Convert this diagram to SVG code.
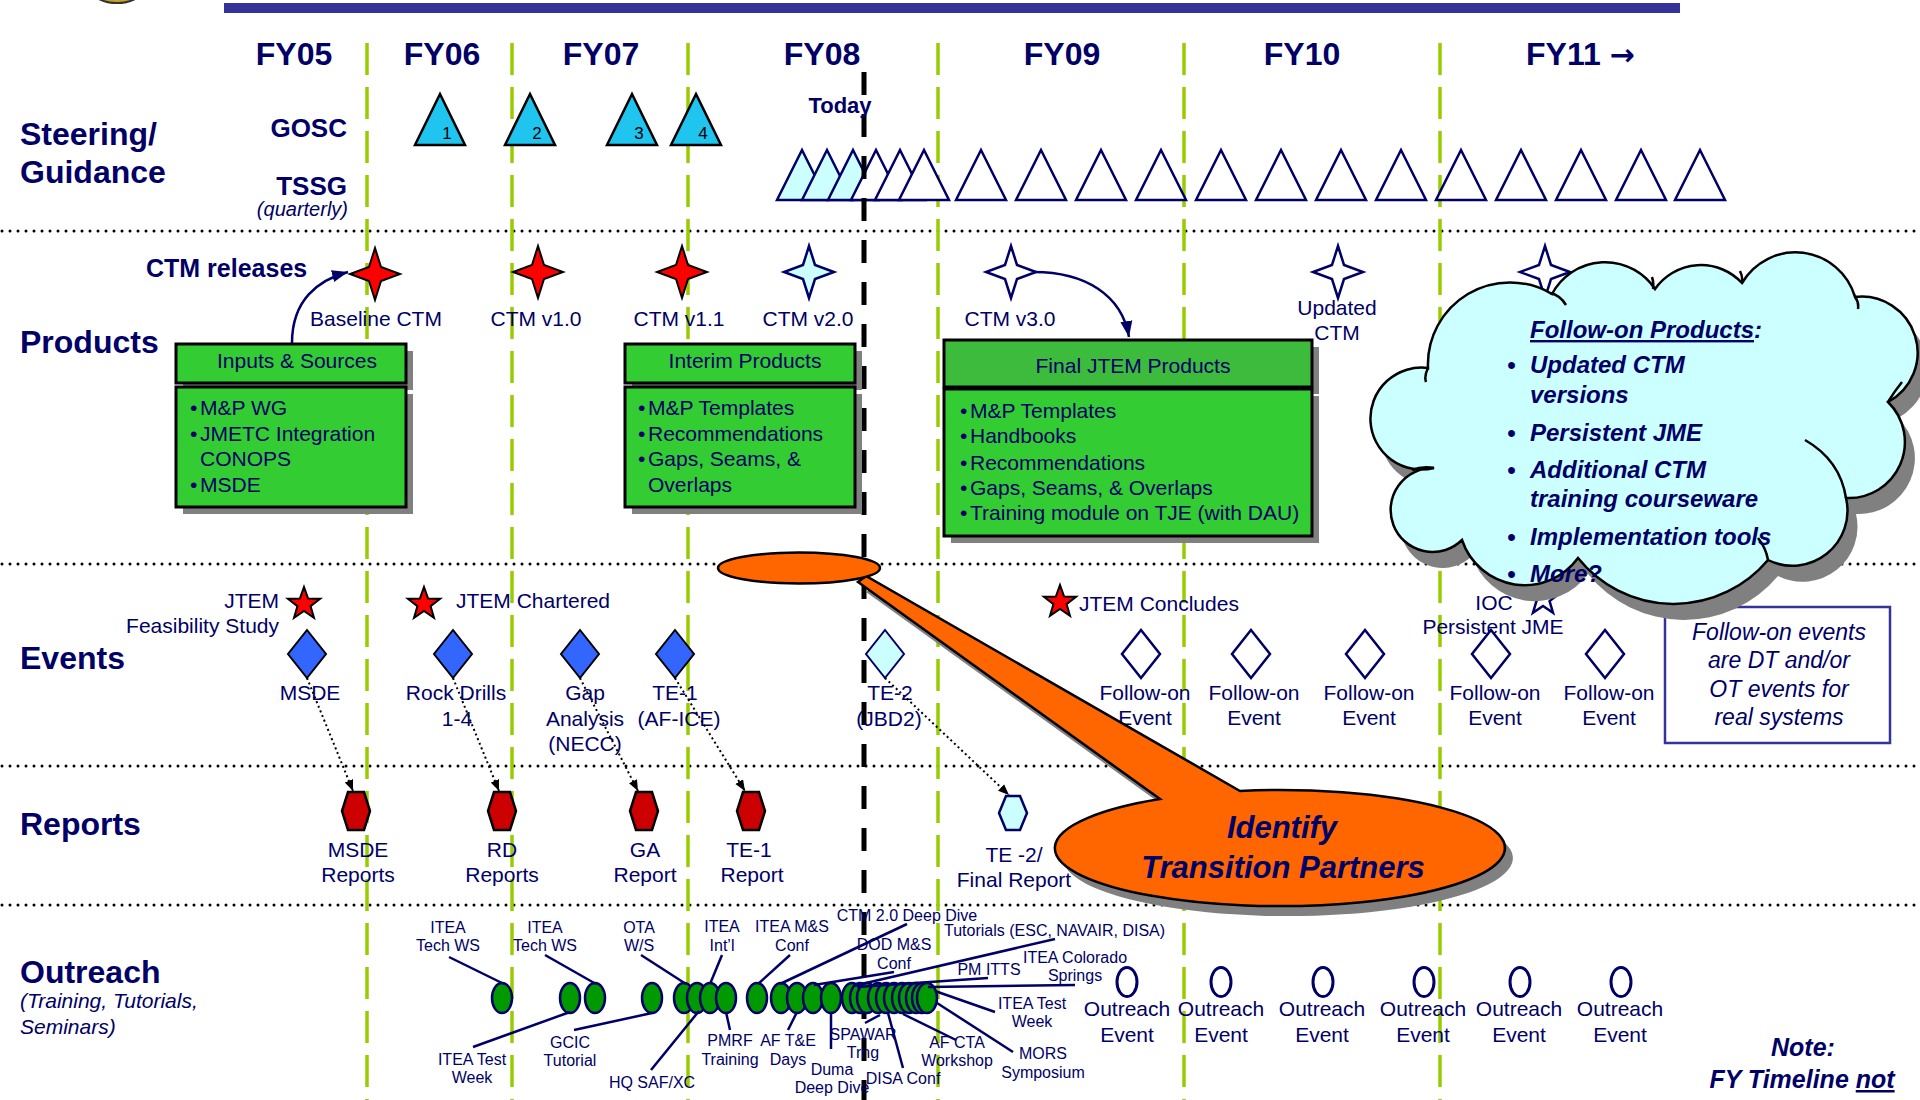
<svg xmlns="http://www.w3.org/2000/svg" width="1920" height="1100" viewBox="0 0 1920 1100">
<style>
 text { font-family: "Liberation Sans", Arial, "DejaVu Sans", sans-serif; fill: #000066; }
 .fy { font-size: 32px; font-weight: bold; text-anchor: middle; }
 .sec { font-size: 32px; font-weight: bold; }
 .sub { font-size: 26px; font-weight: bold; text-anchor: end; }
 .t21 { font-size: 21px; }
 .t16 { font-size: 16px; text-anchor: middle; }
 .m { text-anchor: middle; }
 .e { text-anchor: end; }
 .sep { stroke: #000; stroke-width: 3; stroke-dasharray: 0 8; stroke-linecap: round; fill: none; }
 .fyl { stroke: #99CC00; stroke-width: 3.5; stroke-dasharray: 32 12; }
 .gosc { fill: #1FC5EF; stroke: #000; stroke-width: 2.5; }
 .tssg { fill: #fff; stroke: #000066; stroke-width: 2.5; }
 .tssgc { fill: #CCFFFF; stroke: #000066; stroke-width: 2.5; }
 .shadow { fill: #808080; }
 .box { fill: #33CC33; stroke: #000; stroke-width: 3; }
 .boxd { fill: #3DBB3D; stroke: #000; stroke-width: 3; }
 .redstar { fill: #FF0000; stroke: #000; stroke-width: 2; }
 .openstar { fill: #fff; stroke: #000066; stroke-width: 2.5; }
 .cyanstar { fill: #CCFFFF; stroke: #000066; stroke-width: 2.5; }
 .dia { fill: #3366FF; stroke: #000; stroke-width: 2; }
 .diao { fill: #fff; stroke: #000066; stroke-width: 2.5; }
 .diac { fill: #CCFFFF; stroke: #000066; stroke-width: 2; }
 .hex { fill: #CC0000; stroke: #000; stroke-width: 2.5; }
 .hexc { fill: #CCFFFF; stroke: #000066; stroke-width: 2.5; }
 .dot { fill: none; stroke: #000; stroke-width: 2; stroke-dasharray: 2 3; }
 .oel { fill: #009900; stroke: #000066; stroke-width: 2.5; }
 .oeo { fill: #fff; stroke: #000066; stroke-width: 3; }
 .ol { stroke: #000066; stroke-width: 2.5; fill: none; }
 .cur { fill: none; stroke: #000066; stroke-width: 2.5; }
 .cloudtxt { font-size: 24px; font-weight: bold; font-style: italic; }
</style>
<defs>
 <path id="s4" d="M0,-26 L6,-7 L25,0 L6,7 L0,26 L-6,7 L-25,0 L-6,-7 Z"/>
 <path id="s5" d="M0,-17 L4.06,-5.58 L16.17,-5.25 L6.56,2.13 L9.99,13.75 L0,6.9 L-9.99,13.75 L-6.56,2.13 L-16.17,-5.25 L-4.06,-5.58 Z"/>
 <path id="dm" d="M0,-24 L19,0 L0,24 L-19,0 Z"/>
 <path id="hx" d="M-8,-19 L8,-19 L14,0 L8,19 L-8,19 L-14,0 Z"/>
 <path id="tri" d="M0,-25 L25,25 L-25,25 Z"/>
 <path id="gtri" d="M0,0 L25,51 L-25,51 Z"/>
 <path id="cloud" d="M1428,368 A82,82 0 0 1 1552,294 A60,60 0 0 1 1655,289 A56,56 0 0 1 1742,283 A62,62 0 0 1 1855,297 A56,56 0 0 1 1888,402 A56,56 0 0 1 1846,498 A55,55 0 0 1 1768,560 A123,123 0 0 1 1578,558 A66,66 0 0 1 1462,540 A42,42 0 1 1 1434,468 A51,51 0 1 1 1428,368 Z"/>
 <path id="callout" d="M1160,799 L858,582 L866,576 L1240,791 A225,58 0 1 1 1160,799 Z"/>
 <marker id="ah" markerUnits="userSpaceOnUse" markerWidth="18" markerHeight="14" refX="16" refY="7" orient="auto"><path d="M0,1 L16,7 L0,13 Z" fill="#000066"/></marker>
 <marker id="ahs" markerUnits="userSpaceOnUse" markerWidth="12" markerHeight="10" refX="11" refY="5" orient="auto"><path d="M0,0.5 L11,5 L0,9.5 Z" fill="#000"/></marker>
</defs>

<rect x="0" y="0" width="1920" height="1100" fill="#fff"/>

<!-- header -->
<g id="header">
 <ellipse cx="117" cy="-9" rx="24" ry="12" fill="#C9A227" stroke="#333" stroke-width="2"/>
 <rect x="224" y="3" width="1456" height="10" fill="#333399"/>
 <text class="fy" x="294" y="65">FY05</text>
 <text class="fy" x="442" y="65">FY06</text>
 <text class="fy" x="601" y="65">FY07</text>
 <text class="fy" x="822" y="65">FY08</text>
 <text class="fy" x="1062" y="65">FY09</text>
 <text class="fy" x="1302" y="65">FY10</text>
 <text class="fy" x="1526" y="65" style="text-anchor:start">FY11 <tspan style="font-family:'DejaVu Sans',sans-serif;font-size:30px">→</tspan></text>
</g>

<!-- grid -->
<g id="grid">
 <line class="sep" x1="2" y1="231" x2="1920" y2="231"/>
 <line class="sep" x1="2" y1="564" x2="1920" y2="564"/>
 <line class="sep" x1="2" y1="766" x2="1920" y2="766"/>
 <line class="sep" x1="2" y1="905" x2="1920" y2="905"/>
 <line class="fyl" x1="367" y1="43" x2="367" y2="1100"/>
 <line class="fyl" x1="512" y1="43" x2="512" y2="1100"/>
 <line class="fyl" x1="688" y1="43" x2="688" y2="1100"/>
 <line class="fyl" x1="938" y1="43" x2="938" y2="1100"/>
 <line class="fyl" x1="1184" y1="43" x2="1184" y2="1100"/>
 <line class="fyl" x1="1440" y1="43" x2="1440" y2="1100"/>
</g>

<!-- row labels -->
<g id="row-labels">
 <text class="sec" x="20" y="145">Steering/</text>
 <text class="sec" x="20" y="183">Guidance</text>
 <text class="sub" x="347" y="137">GOSC</text>
 <text class="sub" x="347" y="195">TSSG</text>
 <text class="e" x="348" y="216" style="font-size:20px;font-style:italic">(quarterly)</text>
 <text class="sec" x="20" y="353">Products</text>
 <text x="146" y="277" style="font-size:25px;font-weight:bold">CTM releases</text>
 <text class="sec" x="20" y="669">Events</text>
 <text class="sec" x="20" y="835">Reports</text>
 <text class="sec" x="20" y="983">Outreach</text>
 <text x="20" y="1008" style="font-size:21px;font-style:italic">(Training, Tutorials,</text>
 <text x="20" y="1034" style="font-size:21px;font-style:italic">Seminars)</text>
</g>

<!-- GOSC -->
<g id="gosc">
 <use href="#gtri" class="gosc" x="440" y="94"/>
 <use href="#gtri" class="gosc" x="530" y="94"/>
 <use href="#gtri" class="gosc" x="632" y="94"/>
 <use href="#gtri" class="gosc" x="696" y="94"/>
 <text x="447" y="139" style="font-size:17px;fill:#000" class="m">1</text>
 <text x="537" y="139" style="font-size:17px;fill:#000" class="m">2</text>
 <text x="639" y="139" style="font-size:17px;fill:#000" class="m">3</text>
 <text x="703" y="139" style="font-size:17px;fill:#000" class="m">4</text>
</g>

<!-- TSSG -->
<g id="tssg">
 <use href="#tri" class="tssgc" x="802" y="175"/>
 <use href="#tri" class="tssgc" x="827" y="175"/>
 <use href="#tri" class="tssgc" x="853" y="175"/>
 <use href="#tri" class="tssg" x="876" y="175"/>
 <use href="#tri" class="tssg" x="900" y="175"/>
 <use href="#tri" class="tssg" x="924" y="175"/>
 <use href="#tri" class="tssg" x="981" y="175"/>
 <use href="#tri" class="tssg" x="1041" y="175"/>
 <use href="#tri" class="tssg" x="1101" y="175"/>
 <use href="#tri" class="tssg" x="1161" y="175"/>
 <use href="#tri" class="tssg" x="1221" y="175"/>
 <use href="#tri" class="tssg" x="1281" y="175"/>
 <use href="#tri" class="tssg" x="1341" y="175"/>
 <use href="#tri" class="tssg" x="1401" y="175"/>
 <use href="#tri" class="tssg" x="1461" y="175"/>
 <use href="#tri" class="tssg" x="1521" y="175"/>
 <use href="#tri" class="tssg" x="1581" y="175"/>
 <use href="#tri" class="tssg" x="1641" y="175"/>
 <use href="#tri" class="tssg" x="1700" y="175"/>
</g>

<!-- Today line -->
<g id="today">
 <line x1="864" y1="72" x2="864" y2="1100" stroke="#000" stroke-width="5" stroke-dasharray="23 19"/>
 <text x="840" y="113" class="m" style="font-size:22px;font-weight:bold">Today</text>
</g>

<!-- Product boxes -->
<g id="inputs-sources">
 <rect class="shadow" x="183" y="351" width="230" height="39"/>
 <rect class="shadow" x="183" y="394" width="230" height="120"/>
 <rect class="box" x="176" y="344" width="230" height="39"/>
 <rect class="box" x="176" y="387" width="230" height="120"/>
 <text class="t21 m" x="297" y="368">Inputs &amp; Sources</text>
 <text class="t21" x="190" y="415">•</text><text class="t21" x="200" y="415">M&amp;P WG</text>
 <text class="t21" x="190" y="441">•</text><text class="t21" x="200" y="441">JMETC Integration</text>
 <text class="t21" x="200" y="466">CONOPS</text>
 <text class="t21" x="190" y="492">•</text><text class="t21" x="200" y="492">MSDE</text>
</g>
<g id="interim-products">
 <rect class="shadow" x="632" y="351" width="230" height="39"/>
 <rect class="shadow" x="632" y="394" width="230" height="120"/>
 <rect class="box" x="625" y="344" width="230" height="39"/>
 <rect class="box" x="625" y="387" width="230" height="120"/>
 <text class="t21 m" x="745" y="368">Interim Products</text>
 <text class="t21" x="638" y="415">•</text><text class="t21" x="648" y="415">M&amp;P Templates</text>
 <text class="t21" x="638" y="441">•</text><text class="t21" x="648" y="441">Recommendations</text>
 <text class="t21" x="638" y="466">•</text><text class="t21" x="648" y="466">Gaps, Seams, &amp;</text>
 <text class="t21" x="648" y="492">Overlaps</text>
</g>
<g id="final-products">
 <rect class="shadow" x="951" y="347" width="368" height="47"/>
 <rect class="shadow" x="951" y="396" width="368" height="147"/>
 <rect class="boxd" x="944" y="340" width="368" height="47"/>
 <rect class="box" x="944" y="389" width="368" height="147"/>
 <text class="t21 m" x="1133" y="373">Final JTEM Products</text>
 <text class="t21" x="960" y="418">•</text><text class="t21" x="970" y="418">M&amp;P Templates</text>
 <text class="t21" x="960" y="443">•</text><text class="t21" x="970" y="443">Handbooks</text>
 <text class="t21" x="960" y="470">•</text><text class="t21" x="970" y="470">Recommendations</text>
 <text class="t21" x="960" y="495">•</text><text class="t21" x="970" y="495">Gaps, Seams, &amp; Overlaps</text>
 <text class="t21" x="960" y="520">•</text><text class="t21" x="970" y="520">Training module on TJE (with DAU)</text>
</g>

<!-- CTM release stars -->
<g id="ctm-baseline"><use href="#s4" class="redstar" x="375" y="274"/><text class="t21 m" x="376" y="326">Baseline CTM</text></g>
<g id="ctm-v10"><use href="#s4" class="redstar" x="538" y="272"/><text class="t21 m" x="536" y="326">CTM v1.0</text></g>
<g id="ctm-v11"><use href="#s4" class="redstar" x="682" y="272"/><text class="t21 m" x="679" y="326">CTM v1.1</text></g>
<g id="ctm-v20"><use href="#s4" class="cyanstar" x="809" y="272"/><text class="t21 m" x="808" y="326">CTM v2.0</text></g>
<g id="ctm-v30"><use href="#s4" class="openstar" x="1011" y="272"/><text class="t21 m" x="1010" y="326">CTM v3.0</text></g>
<g id="ctm-updated"><use href="#s4" class="openstar" x="1338" y="272"/><text class="t21 m" x="1337" y="315">Updated</text><text class="t21 m" x="1337" y="340">CTM</text></g>
<g id="ctm-next"><use href="#s4" class="openstar" x="1545" y="272"/></g>

<!-- Events -->
<g id="ev-feasibility"><use href="#s5" class="redstar" x="304" y="604"/><text class="t21 e" x="279" y="608">JTEM</text><text class="t21 e" x="279" y="633">Feasibility Study</text></g>
<g id="ev-chartered"><use href="#s5" class="redstar" x="424" y="604"/><text class="t21" x="456" y="608">JTEM Chartered</text></g>
<g id="ev-concludes"><use href="#s5" class="redstar" x="1060" y="602"/><text class="t21" x="1079" y="611">JTEM Concludes</text></g>
<g id="ev-ioc"><use href="#s5" class="openstar" x="1543" y="599"/><text class="t21 m" x="1494" y="610">IOC</text><text class="t21 m" x="1493" y="634">Persistent JME</text></g>

<g id="ev-msde"><use href="#dm" class="dia" x="307" y="654"/><text class="t21 m" x="310" y="700">MSDE</text></g>
<g id="ev-rd"><use href="#dm" class="dia" x="453" y="654"/><text class="t21 m" x="456" y="700">Rock Drills</text><text class="t21 m" x="457" y="726">1-4</text></g>
<g id="ev-gap"><use href="#dm" class="dia" x="580" y="654"/><text class="t21 m" x="585" y="700">Gap</text><text class="t21 m" x="585" y="726">Analysis</text><text class="t21 m" x="585" y="751">(NECC)</text></g>
<g id="ev-te1"><use href="#dm" class="dia" x="675" y="654"/><text class="t21 m" x="675" y="700">TE-1</text><text class="t21 m" x="679" y="726">(AF-ICE)</text></g>
<g id="ev-te2"><use href="#dm" class="diac" x="885" y="654"/><text class="t21 m" x="890" y="700">TE-2</text><text class="t21 m" x="889" y="726">(JBD2)</text></g>
<g id="ev-fo1"><use href="#dm" class="diao" x="1141" y="654"/><text class="t21 m" x="1145" y="700">Follow-on</text><text class="t21 m" x="1145" y="725">Event</text></g>
<g id="ev-fo2"><use href="#dm" class="diao" x="1251" y="654"/><text class="t21 m" x="1254" y="700">Follow-on</text><text class="t21 m" x="1254" y="725">Event</text></g>
<g id="ev-fo3"><use href="#dm" class="diao" x="1365" y="654"/><text class="t21 m" x="1369" y="700">Follow-on</text><text class="t21 m" x="1369" y="725">Event</text></g>
<g id="ev-fo4"><use href="#dm" class="diao" x="1491" y="654"/><text class="t21 m" x="1495" y="700">Follow-on</text><text class="t21 m" x="1495" y="725">Event</text></g>
<g id="ev-fo5"><use href="#dm" class="diao" x="1605" y="654"/><text class="t21 m" x="1609" y="700">Follow-on</text><text class="t21 m" x="1609" y="725">Event</text></g>

<g id="followon-note">
 <rect x="1665" y="607" width="225" height="136" fill="#fff" stroke="#333399" stroke-width="2.5"/>
 <text class="m" x="1779" y="640" style="font-size:23px;font-style:italic">Follow-on events</text>
 <text class="m" x="1779" y="668" style="font-size:23px;font-style:italic">are DT and/or</text>
 <text class="m" x="1779" y="697" style="font-size:23px;font-style:italic">OT events for</text>
 <text class="m" x="1779" y="725" style="font-size:23px;font-style:italic">real systems</text>
</g>

<!-- Reports -->
<g id="rp-msde"><use href="#hx" class="hex" x="356" y="811"/><text class="t21 m" x="358" y="857">MSDE</text><text class="t21 m" x="358" y="882">Reports</text></g>
<g id="rp-rd"><use href="#hx" class="hex" x="502" y="811"/><text class="t21 m" x="502" y="857">RD</text><text class="t21 m" x="502" y="882">Reports</text></g>
<g id="rp-ga"><use href="#hx" class="hex" x="644" y="811"/><text class="t21 m" x="645" y="857">GA</text><text class="t21 m" x="645" y="882">Report</text></g>
<g id="rp-te1"><use href="#hx" class="hex" x="751" y="811"/><text class="t21 m" x="749" y="857">TE-1</text><text class="t21 m" x="752" y="882">Report</text></g>
<g id="rp-te2"><path class="hexc" d="M1006,796 L1020,796 L1027,813 L1020,830 L1006,830 L999,813 Z"/><text class="t21 m" x="1014" y="862">TE -2/</text><text class="t21 m" x="1014" y="887">Final Report</text></g>

<!-- Connectors -->
<g id="connectors">
 <path class="cur" d="M292,343 C292,300 318,280 348,272" marker-end="url(#ah)"/>
 <path class="cur" d="M1034,272 C1085,272 1122,295 1129,337" marker-end="url(#ah)"/>
 <line class="dot" x1="307" y1="678" x2="353" y2="791" marker-end="url(#ahs)"/>
 <line class="dot" x1="453" y1="678" x2="499" y2="791" marker-end="url(#ahs)"/>
 <line class="dot" x1="580" y1="678" x2="638" y2="791" marker-end="url(#ahs)"/>
 <line class="dot" x1="675" y1="678" x2="745" y2="791" marker-end="url(#ahs)"/>
 <line class="dot" x1="885" y1="678" x2="1009" y2="795" marker-end="url(#ahs)"/>
</g>

<!-- Cloud -->
<g id="followon-products">
 <use href="#cloud" class="shadow" x="10" y="16"/>
 <use href="#cloud" fill="#CCFFFF" stroke="#000" stroke-width="2.5"/>
 <path fill="none" stroke="#000" stroke-width="2.5" d="M1550,293 q10,2 16,12 M1653,289 q1,-6 -1,-12 M1742,283 q1,-6 -2,-12 M1855,297 q4,5 3,12 M1888,402 q6,-10 14,-20 M1805,440 q35,20 41,58 M1768,560 q-2,-12 -10,-22 M1434,468 q-12,-2 -22,2 M1428,368 q-4,8 -2,14"/>
 <text class="cloudtxt" x="1530" y="338"><tspan text-decoration="underline">Follow-on Products</tspan>:</text>
 <text class="cloudtxt" x="1507" y="373">•</text><text class="cloudtxt" x="1530" y="373">Updated CTM</text>
 <text class="cloudtxt" x="1530" y="403">versions</text>
 <text class="cloudtxt" x="1507" y="441">•</text><text class="cloudtxt" x="1530" y="441">Persistent JME</text>
 <text class="cloudtxt" x="1507" y="478">•</text><text class="cloudtxt" x="1530" y="478">Additional CTM</text>
 <text class="cloudtxt" x="1530" y="507">training courseware</text>
 <text class="cloudtxt" x="1507" y="545">•</text><text class="cloudtxt" x="1530" y="545">Implementation tools</text>
 <text class="cloudtxt" x="1507" y="582">•</text><text class="cloudtxt" x="1530" y="582">More?</text>
</g>

<!-- Callout -->
<g id="callout-transition">
 <use href="#callout" class="shadow" x="8" y="10"/>
 <use href="#callout" fill="#FF6600" stroke="#000" stroke-width="2.5"/>
 <ellipse cx="799" cy="568" rx="81" ry="15.5" fill="#FF6600" stroke="#000" stroke-width="2.5"/>
 <text class="m" x="1282" y="838" style="font-size:31px;font-weight:bold;font-style:italic">Identify</text>
 <text class="m" x="1283" y="878" style="font-size:31px;font-weight:bold;font-style:italic">Transition Partners</text>
</g>

<!-- Outreach -->
<g id="outreach-past">
 <ellipse class="oel" cx="502" cy="998" rx="10" ry="15"/>
 <ellipse class="oel" cx="570" cy="998" rx="10" ry="15"/>
 <ellipse class="oel" cx="595" cy="998" rx="10" ry="15"/>
 <ellipse class="oel" cx="652" cy="998" rx="10" ry="15"/>
 <ellipse class="oel" cx="684" cy="998" rx="10" ry="15"/>
 <ellipse class="oel" cx="697" cy="998" rx="10" ry="15"/>
 <ellipse class="oel" cx="710" cy="998" rx="10" ry="15"/>
 <ellipse class="oel" cx="726" cy="998" rx="10" ry="15"/>
 <ellipse class="oel" cx="757" cy="998" rx="10" ry="15"/>
 <ellipse class="oel" cx="781" cy="998" rx="10" ry="15"/>
 <ellipse class="oel" cx="797" cy="998" rx="10" ry="15"/>
 <ellipse class="oel" cx="813" cy="998" rx="10" ry="15"/>
 <ellipse class="oel" cx="831" cy="998" rx="10" ry="15"/>
 <ellipse class="oel" cx="852" cy="998" rx="10" ry="15"/>
 <ellipse class="oel" cx="860" cy="998" rx="10" ry="15"/>
 <ellipse class="oel" cx="867" cy="998" rx="10" ry="15"/>
 <ellipse class="oel" cx="878" cy="998" rx="10" ry="15"/>
 <ellipse class="oel" cx="886" cy="998" rx="10" ry="15"/>
 <ellipse class="oel" cx="894" cy="998" rx="10" ry="15"/>
 <ellipse class="oel" cx="902" cy="998" rx="10" ry="15"/>
 <ellipse class="oel" cx="909" cy="998" rx="10" ry="15"/>
 <ellipse class="oel" cx="916" cy="998" rx="10" ry="15"/>
 <ellipse class="oel" cx="922" cy="998" rx="10" ry="15"/>
 <ellipse class="oel" cx="927" cy="998" rx="10" ry="15"/>
</g>
<g id="outreach-leaders">
 <line class="ol" x1="449" y1="957" x2="504" y2="984"/>
 <line class="ol" x1="545" y1="955" x2="596" y2="984"/>
 <line class="ol" x1="641" y1="955" x2="686" y2="984"/>
 <line class="ol" x1="473" y1="1047" x2="570" y2="1012"/>
 <line class="ol" x1="574" y1="1030" x2="652" y2="1013"/>
 <line class="ol" x1="651" y1="1070" x2="699" y2="1011"/>
 <line class="ol" x1="722" y1="955" x2="710" y2="984"/>
 <line class="ol" x1="790" y1="955" x2="758" y2="984"/>
 <line class="ol" x1="907" y1="924" x2="780" y2="984"/>
 <line class="ol" x1="894" y1="972" x2="814" y2="985"/>
 <line class="ol" x1="1055" y1="939" x2="853" y2="986"/>
 <line class="ol" x1="988" y1="978" x2="857" y2="987"/>
 <line class="ol" x1="1075" y1="985" x2="928" y2="987"/>
 <line class="ol" x1="995" y1="1012" x2="935" y2="991"/>
 <line class="ol" x1="1013" y1="1052" x2="937" y2="1003"/>
 <line class="ol" x1="956" y1="1040" x2="903" y2="1014"/>
 <line class="ol" x1="903" y1="1068" x2="888" y2="1013"/>
 <line class="ol" x1="865" y1="1023" x2="880" y2="1015"/>
 <line class="ol" x1="831" y1="1049" x2="831" y2="1012"/>
 <line class="ol" x1="788" y1="1030" x2="797" y2="1012"/>
 <line class="ol" x1="730" y1="1030" x2="726" y2="1012"/>
</g>
<g id="outreach-labels">
 <text class="t16" x="448" y="933">ITEA</text><text class="t16" x="448" y="951">Tech WS</text>
 <text class="t16" x="545" y="933">ITEA</text><text class="t16" x="545" y="951">Tech WS</text>
 <text class="t16" x="639" y="933">OTA</text><text class="t16" x="639" y="951">W/S</text>
 <text class="t16" x="722" y="932">ITEA</text><text class="t16" x="722" y="951">Int’l</text>
 <text class="t16" x="792" y="932">ITEA M&amp;S</text><text class="t16" x="792" y="951">Conf</text>
 <text class="t16" x="907" y="921">CTM 2.0 Deep Dive</text>
 <text class="t16" x="944" y="936" style="text-anchor:start">Tutorials (ESC, NAVAIR, DISA)</text>
 <text class="t16" x="894" y="950">DOD M&amp;S</text><text class="t16" x="894" y="969">Conf</text>
 <text class="t16" x="989" y="975">PM ITTS</text>
 <text class="t16" x="1075" y="963">ITEA Colorado</text><text class="t16" x="1075" y="981">Springs</text>
 <text class="t16" x="1032" y="1009">ITEA Test</text><text class="t16" x="1032" y="1027">Week</text>
 <text class="t16" x="1043" y="1059">MORS</text><text class="t16" x="1043" y="1078">Symposium</text>
 <text class="t16" x="957" y="1048">AF CTA</text><text class="t16" x="957" y="1066">Workshop</text>
 <text class="t16" x="903" y="1084">DISA Conf</text>
 <text class="t16" x="863" y="1040">SPAWAR</text><text class="t16" x="863" y="1058">Trng</text>
 <text class="t16" x="832" y="1075">Duma</text><text class="t16" x="832" y="1093">Deep Dive</text>
 <text class="t16" x="788" y="1046">AF T&amp;E</text><text class="t16" x="788" y="1065">Days</text>
 <text class="t16" x="730" y="1046">PMRF</text><text class="t16" x="730" y="1065">Training</text>
 <text class="t16" x="472" y="1065">ITEA Test</text><text class="t16" x="472" y="1083">Week</text>
 <text class="t16" x="570" y="1048">GCIC</text><text class="t16" x="570" y="1066">Tutorial</text>
 <text class="t16" x="652" y="1088">HQ SAF/XC</text>
</g>
<g id="outreach-future">
 <ellipse class="oeo" cx="1127" cy="982" rx="10" ry="14.5"/>
 <ellipse class="oeo" cx="1221" cy="982" rx="10" ry="14.5"/>
 <ellipse class="oeo" cx="1323" cy="982" rx="10" ry="14.5"/>
 <ellipse class="oeo" cx="1424" cy="982" rx="10" ry="14.5"/>
 <ellipse class="oeo" cx="1520" cy="982" rx="10" ry="14.5"/>
 <ellipse class="oeo" cx="1621" cy="982" rx="10" ry="14.5"/>
 <text class="t21 m" x="1127" y="1016">Outreach</text><text class="t21 m" x="1127" y="1042">Event</text>
 <text class="t21 m" x="1221" y="1016">Outreach</text><text class="t21 m" x="1221" y="1042">Event</text>
 <text class="t21 m" x="1322" y="1016">Outreach</text><text class="t21 m" x="1322" y="1042">Event</text>
 <text class="t21 m" x="1423" y="1016">Outreach</text><text class="t21 m" x="1423" y="1042">Event</text>
 <text class="t21 m" x="1519" y="1016">Outreach</text><text class="t21 m" x="1519" y="1042">Event</text>
 <text class="t21 m" x="1620" y="1016">Outreach</text><text class="t21 m" x="1620" y="1042">Event</text>
</g>

<g id="note">
 <text class="m" x="1803" y="1056" style="font-size:25px;font-weight:bold;font-style:italic">Note:</text>
 <text class="m" x="1802" y="1088" style="font-size:25px;font-weight:bold;font-style:italic">FY Timeline <tspan text-decoration="underline">not</tspan></text>
</g>
</svg>
